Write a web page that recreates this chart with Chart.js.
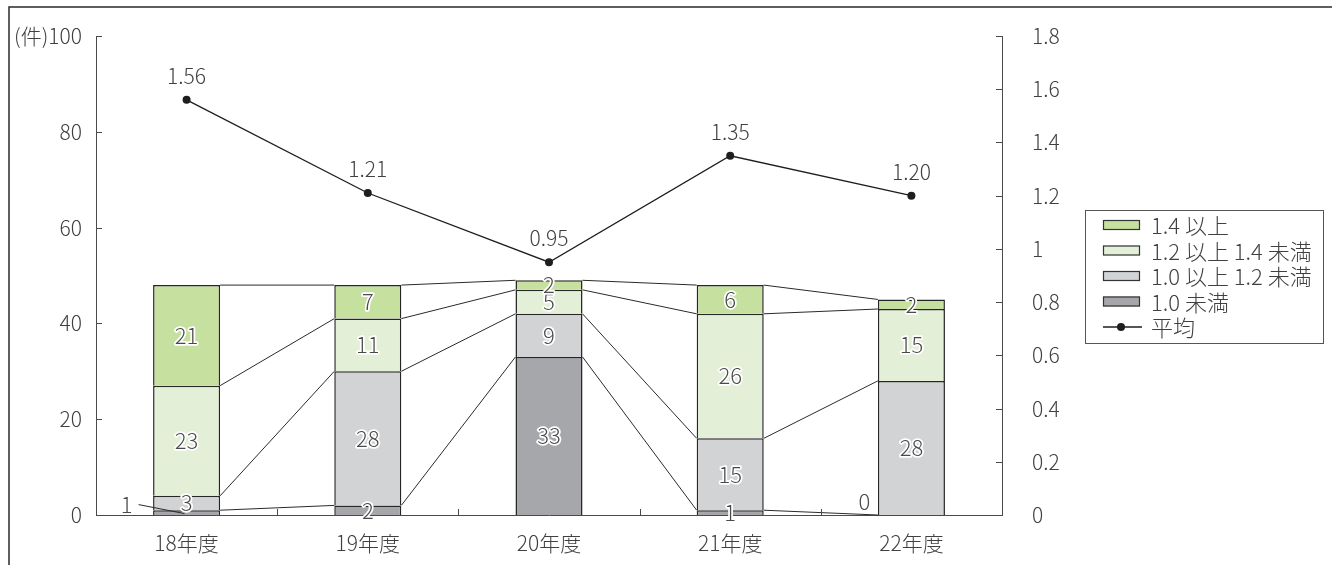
<!DOCTYPE html>
<html lang="ja">
<head>
<meta charset="utf-8">
<title>件数と平均の推移</title>
<script src="https://cdn.jsdelivr.net/npm/chart.js@4/dist/chart.umd.min.js"></script>
<style>
  html, body { margin: 0; padding: 0; background: #fff; }
  #wrap { width: 1332px; height: 565px; }
</style>
</head>
<body>
<div id="wrap"><canvas id="c" width="1332" height="565"></canvas></div>
<script>
// 年度
const categories = ['18年度', '19年度', '20年度', '21年度', '22年度'];

// 区分ごとの件数（下から積み上げ）
const under10 = [1, 2, 33, 1, 0];          // 1.0 未満
const from10to12 = [3, 28, 9, 15, 28];     // 1.0 以上 1.2 未満
const from12to14 = [23, 11, 5, 26, 15];    // 1.2 以上 1.4 未満
const over14 = [21, 7, 2, 6, 2];           // 1.4 以上

// 平均（右軸）
const average = [1.56, 1.21, 0.95, 1.35, 1.20];
const averageLabels = ['1.56', '1.21', '0.95', '1.35', '1.20'];

// 目盛り
const leftTicks = [0, 20, 40, 60, 80, 100];
const rightTicks = [0, 0.2, 0.4, 0.6, 0.8, 1, 1.2, 1.4, 1.6, 1.8];

const seriesNames = ['1.0 未満', '1.0 以上 1.2 未満', '1.2 以上 1.4 未満', '1.4 以上'];
const averageName = '平均';

const FONT = '"Noto Sans CJK JP", "Noto Sans", sans-serif';
const WEIGHT = '300';
const TEXT = '#404040';
const AXIS = '#4a4a4a';
const fills = ['#a6a7aa', '#d2d3d5', '#e3efd6', '#c6e09f'];

// 件数ラベルをバーの外に出す箇所（データセット番号, 年度番号, ずらし量, 引き出し線）
const labelOverrides = [
  { ds: 0, idx: 0, dx: -60, dy: -8, leader: true },
  { ds: 0, idx: 4, dx: -47, dy: -13, leader: false }
];

const barSets = [under10, from10to12, from12to14, over14].map((vals, i) => ({
  type: 'bar',
  label: seriesNames[i],
  data: vals,
  backgroundColor: fills[i],
  borderColor: '#262626',
  borderWidth: 1.5,
  borderSkipped: 'start',
  barPercentage: 0.37,
  categoryPercentage: 1,
  yAxisID: 'y',
  order: 1
}));

const lineSet = {
  type: 'line',
  label: averageName,
  data: average,
  yAxisID: 'y2',
  borderColor: '#1e1e1e',
  borderWidth: 1.3,
  pointRadius: 4,
  pointBackgroundColor: '#1e1e1e',
  pointBorderColor: '#1e1e1e',
  pointBorderWidth: 0,
  tension: 0,
  order: 0
};

// 外枠（上と左）
const framePlugin = {
  id: 'frame',
  beforeDraw(chart) {
    const ctx = chart.ctx;
    ctx.save();
    ctx.strokeStyle = '#2a2a2a';
    ctx.lineWidth = 1.5;
    ctx.beginPath();
    ctx.moveTo(9, chart.height);
    ctx.lineTo(9, 7);
    ctx.lineTo(chart.width, 7);
    ctx.stroke();
    ctx.restore();
  }
};

// 内向きの目盛り線と区切り線
const tickPlugin = {
  id: 'innerTicks',
  afterDraw(chart) {
    const ctx = chart.ctx;
    const { y, y2, x } = chart.scales;
    const area = chart.chartArea;
    ctx.save();
    ctx.strokeStyle = AXIS;
    ctx.lineWidth = 1;
    ctx.beginPath();
    leftTicks.forEach(v => {
      const py = Math.round(y.getPixelForValue(v)) + 0.5;
      ctx.moveTo(area.left, py);
      ctx.lineTo(area.left + 6, py);
    });
    rightTicks.forEach(v => {
      const py = Math.round(y2.getPixelForValue(v)) + 0.5;
      ctx.moveTo(area.right, py);
      ctx.lineTo(area.right - 6, py);
    });
    for (let i = 0; i < categories.length - 1; i++) {
      const px = Math.round((x.getPixelForValue(i) + x.getPixelForValue(i + 1)) / 2) + 0.5;
      ctx.moveTo(px, area.bottom);
      ctx.lineTo(px, area.bottom - 6);
    }
    ctx.stroke();
    ctx.restore();
  }
};

// 年度間の区分境界を結ぶ線
const seriesLinePlugin = {
  id: 'seriesLines',
  beforeDatasetsDraw(chart) {
    const ctx = chart.ctx;
    const metas = barSets.map((_, i) => chart.getDatasetMeta(i));
    ctx.save();
    ctx.strokeStyle = '#2a2a2a';
    ctx.lineWidth = 1;
    ctx.beginPath();
    metas.forEach(meta => {
      for (let i = 0; i < categories.length - 1; i++) {
        const a = meta.data[i], b = meta.data[i + 1];
        const ay = Math.min(a.y, a.base), by = Math.min(b.y, b.base);
        ctx.moveTo(a.x + a.width / 2, ay);
        ctx.lineTo(b.x - b.width / 2, by);
      }
    });
    ctx.stroke();
    ctx.restore();
  }
};

function haloText(ctx, text, px, py) {
  ctx.lineJoin = 'round';
  ctx.strokeStyle = '#ffffff';
  ctx.lineWidth = 3.5;
  ctx.strokeText(text, px, py);
  ctx.fillStyle = '#4a4a4a';
  ctx.fillText(text, px, py);
}

// 件数ラベルと平均値ラベル
const labelPlugin = {
  id: 'valueLabels',
  afterDatasetsDraw(chart) {
    const ctx = chart.ctx;
    ctx.save();
    ctx.font = WEIGHT + ' 22px ' + FONT;
    ctx.textAlign = 'center';
    ctx.textBaseline = 'middle';
    barSets.forEach((set, ds) => {
      const meta = chart.getDatasetMeta(ds);
      set.data.forEach((v, idx) => {
        const el = meta.data[idx];
        const cx = el.x;
        const cy = (el.y + el.base) / 2;
        const ov = labelOverrides.find(o => o.ds === ds && o.idx === idx);
        if (ov) {
          const lx = cx + ov.dx, ly = cy + ov.dy;
          if (ov.leader) {
            ctx.strokeStyle = '#2a2a2a';
            ctx.lineWidth = 1;
            ctx.beginPath();
            ctx.moveTo(lx + 12, ly);
            ctx.lineTo(cx - 2, cy + 1);
            ctx.stroke();
          }
          ctx.fillStyle = '#4a4a4a';
          ctx.fillText(String(v), lx, ly);
        } else {
          haloText(ctx, String(v), cx, cy);
        }
      });
    });
    const lm = chart.getDatasetMeta(barSets.length);
    ctx.fillStyle = TEXT;
    ctx.font = WEIGHT + ' 21px ' + FONT;
    lm.data.forEach((pt, i) => {
      ctx.fillText(averageLabels[i], pt.x, pt.y - 24);
    });
    ctx.restore();
  }
};

// 凡例
const legendPlugin = {
  id: 'boxLegend',
  afterDraw(chart) {
    const ctx = chart.ctx;
    const bx = 1085, by = 210, bw = 238, bh = 133;
    ctx.save();
    ctx.strokeStyle = '#555';
    ctx.lineWidth = 1;
    ctx.strokeRect(bx + 0.5, by + 0.5, bw, bh);
    const names = [seriesNames[3], seriesNames[2], seriesNames[1], seriesNames[0], averageName];
    const colors = [fills[3], fills[2], fills[1], fills[0]];
    ctx.font = WEIGHT + ' 22px ' + FONT;
    ctx.textBaseline = 'middle';
    ctx.textAlign = 'left';
    names.forEach((n, i) => {
      const cy = 225 + i * 25.5;
      if (i < 4) {
        ctx.fillStyle = colors[i];
        ctx.fillRect(1103, cy - 5, 37, 10);
        ctx.strokeStyle = '#333';
        ctx.lineWidth = 1.2;
        ctx.strokeRect(1103.5, cy - 4.5, 36, 9);
      } else {
        ctx.strokeStyle = '#1e1e1e';
        ctx.lineWidth = 1.3;
        ctx.beginPath();
        ctx.moveTo(1103, cy);
        ctx.lineTo(1142, cy);
        ctx.stroke();
        ctx.fillStyle = '#1e1e1e';
        ctx.beginPath();
        ctx.arc(1121, cy, 4, 0, Math.PI * 2);
        ctx.fill();
      }
      ctx.fillStyle = TEXT;
      ctx.fillText(n, 1151, cy + 1);
    });
    ctx.restore();
  }
};

const tickFont = { family: FONT, size: 21, weight: WEIGHT };

new Chart(document.getElementById('c'), {
  data: {
    labels: categories,
    datasets: [...barSets, lineSet]
  },
  options: {
    responsive: false,
    animation: false,
    devicePixelRatio: 1,
    layout: { padding: { top: 36, left: 0, right: 0, bottom: 0 } },
    plugins: {
      legend: { display: false },
      tooltip: { enabled: false }
    },
    scales: {
      x: {
        stacked: true,
        offset: true,
        grid: { display: false },
        border: { display: true, color: AXIS, width: 1 },
        ticks: { color: TEXT, font: tickFont, padding: 7, maxRotation: 0 },
        afterFit(s) { s.height = 50; }
      },
      y: {
        stacked: true,
        position: 'left',
        min: 0,
        max: 100,
        grid: { display: false },
        border: { display: true, color: AXIS, width: 1 },
        afterBuildTicks(s) { s.ticks = leftTicks.map(v => ({ value: v })); },
        ticks: {
          color: TEXT,
          font: tickFont,
          padding: 6,
          callback: v => (v === 100 ? '(件)100' : String(v))
        },
        afterFit(s) { s.width = 96; }
      },
      y2: {
        position: 'right',
        min: 0,
        max: 1.8,
        grid: { display: false },
        border: { display: true, color: AXIS, width: 1 },
        afterBuildTicks(s) { s.ticks = rightTicks.map(v => ({ value: v })); },
        ticks: {
          color: TEXT,
          font: tickFont,
          padding: 22,
          callback: v => String(Math.round(v * 10) / 10)
        },
        afterFit(s) { s.width = 330; }
      }
    }
  },
  plugins: [framePlugin, seriesLinePlugin, labelPlugin, tickPlugin, legendPlugin]
});
</script>
</body>
</html>
